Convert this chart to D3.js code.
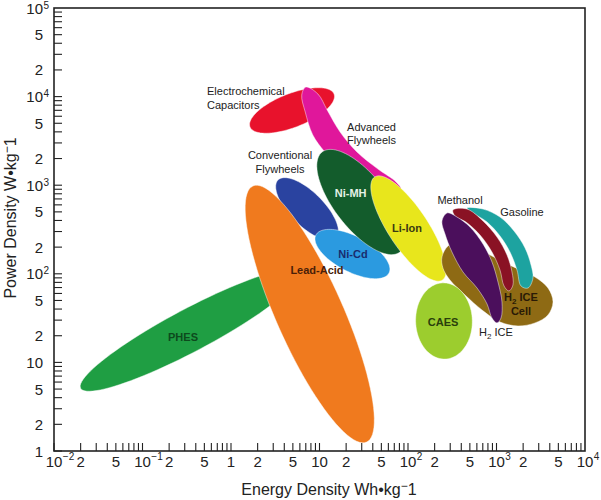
<!DOCTYPE html>
<html><head><meta charset="utf-8">
<script src="https://cdn.jsdelivr.net/npm/d3@7"></script>
<style>body{margin:0;background:#fff}</style>
</head><body><svg id="c" width="601" height="500"></svg>
<script>
// ---- Data ----
// Elliptical regions: major-axis end points (energy Wh/kg, power W/kg) and semi-minor axis in decades
const ellNames = ["PHES","Conventional Flywheels","Lead-Acid","Ni-Cd","Electrochemical Capacitors","Ni-MH","Li-Ion","CAES"];
const ellE1 = [0.02, 3.4, 1.77, 9.1, 1.64, 10.7, 42, 248];
const ellP1 = [5.1, 1145, 980, 274, 4540, 2370, 1238, 79];
const ellE2 = [6.0, 15.4, 34, 61, 14.6, 81, 245, 262];
const ellP2 = [105, 254, 1.26, 102, 10700, 176, 85, 10.9];
const ellHalfWidth = [0.24, 0.19, 0.38, 0.20, 0.19, 0.30, 0.225, 0.32];

// Free-form regions: outline points (energy Wh/kg, power W/kg)
const advFlyE = [7.0, 9.6, 12.2, 17.1, 26.5, 45.8, 73.2, 83.4, 73.2, 48.3, 28.7, 17.1, 11.5, 8.4, 6.9, 6.3];
const advFlyP = [12800, 10700, 7060, 3980, 2370, 1520, 1090, 906, 838, 979, 1205, 1563, 2370, 3690, 6700, 10400];
const h2CellE = [242, 283, 367, 529, 845, 1496, 2723, 3818, 4350, 3818, 2723, 1750, 1096, 686, 441, 298, 248];
const h2CellP = [155, 206, 234, 217, 163, 122, 92, 69.1, 48.1, 34.3, 27.9, 25.8, 28.6, 39.0, 57.6, 85.1, 116];
const gasolineE = [464, 704, 1096, 1578, 2100, 2454, 2583, 2270, 1893, 1706, 1421, 1096, 782, 542];
const gasolineP = [553, 538, 437, 304, 196, 126, 89.7, 69.1, 72.8, 110, 176, 267, 384, 486];
const methanolE = [322, 464, 704, 1013, 1315, 1496, 1535, 1384, 1216, 1096, 889, 651, 452, 340];
const methanolP = [525, 538, 394, 260, 163, 105, 74.8, 64, 72.8, 110, 176, 274, 384, 449];
const h2IceE = [276, 358, 502, 704, 889, 1040, 1153, 1125, 1013, 889, 782, 603, 418, 314, 262, 242];
const h2IceP = [486, 437, 337, 217, 136, 80.7, 48.1, 31.7, 27.9, 31.7, 45.6, 69.1, 105, 176, 281, 394];

// Labels: text lines, anchor energy, anchor power
const labelText = [["Electrochemical","Capacitors"],["Advanced","Flywheels"],["Conventional","Flywheels"],["Ni-MH"],["Li-Ion"],["Ni-Cd"],["Lead-Acid"],["PHES"],["Methanol"],["Gasoline"],["H2 ICE","Cell"],["CAES"],["H2 ICE"]];
const labelE = [0.536, 73.2, 3.58, 22.5, 97.4, 23.9, 9.37, 0.287, 387, 1941, 1892, 249, 987];
const labelP = [11560, 4540, 2190, 816, 329, 167, 110, 19.4, 681, 499, 54.7, 28.6, 22.0];

// Tick labels
const xTickVals = [0.01,0.02,0.05,0.1,0.2,0.5,1,2,5,10,20,50,100,200,500,1000,2000,5000,10000];
const xTickBase = ["10","2","5","10","2","5","1","2","5","10","2","5","10","2","5","10","2","5","10"];
const xTickSup  = ["−2","","","−1","","","","","","","","","2","","","3","","","4"];
const yTickVals = [1,2,5,10,20,50,100,200,500,1000,2000,5000,10000,20000,50000,100000];
const yTickBase = ["1","2","5","10","2","5","10","2","5","10","2","5","10","2","5","10"];
const yTickSup  = ["","","","","","","2","","","3","","","4","","","5"];

// ---- Styles ----
const colors = {
  "PHES":"#1f9e43","Conventional Flywheels":"#2a43a0","Lead-Acid":"#f07a1e","Ni-Cd":"#2b9ae0",
  "Electrochemical Capacitors":"#e8122c","Advanced Flywheels":"#e0179b","Ni-MH":"#135c2c",
  "Li-Ion":"#e8e61c","H2 ICE Cell":"#8e6a14","Gasoline":"#1da3a0","Methanol":"#8a1224",
  "H2 ICE":"#4b0f5c","CAES":"#9ccd2e"
};
const labelStyle = [
  {fill:"#222",w:"normal",a:"start"},{fill:"#222",w:"normal",a:"end"},{fill:"#222",w:"normal",a:"middle"},
  {fill:"#e6f2e6",w:"bold",a:"middle"},{fill:"#3a3a12",w:"bold",a:"middle"},{fill:"#1a2c6e",w:"bold",a:"middle"},
  {fill:"#4a1e08",w:"bold",a:"middle"},{fill:"#0d4a1d",w:"bold",a:"middle"},{fill:"#222",w:"normal",a:"middle"},
  {fill:"#222",w:"normal",a:"middle"},{fill:"#2a1a06",w:"bold",a:"middle"},{fill:"#2a3f0c",w:"bold",a:"middle"},
  {fill:"#222",w:"normal",a:"middle"}
];
const font = "'Liberation Sans', Arial, Helvetica, sans-serif";

const svg = d3.select("#c");
const x = d3.scaleLog().domain([0.01, 10000]).range([54, 585]);
const y = d3.scaleLog().domain([1, 100000]).range([451, 8]);

// region geometry
function ellipsePts(i){
  const lx1=Math.log10(ellE1[i]), ly1=Math.log10(ellP1[i]), lx2=Math.log10(ellE2[i]), ly2=Math.log10(ellP2[i]);
  const cx=(lx1+lx2)/2, cy=(ly1+ly2)/2, dx=lx2-lx1, dy=ly2-ly1, len=Math.hypot(dx,dy);
  const a=len/2, b=ellHalfWidth[i], ux=dx/len, uy=dy/len, vx=-uy, vy=ux;
  return d3.range(0, 96).map(k=>{
    const t=k/96*2*Math.PI;
    return [Math.pow(10, cx + a*Math.cos(t)*ux + b*Math.sin(t)*vx), Math.pow(10, cy + a*Math.cos(t)*uy + b*Math.sin(t)*vy)];
  });
}
const lineLin = d3.line().x(d=>x(d[0])).y(d=>y(d[1])).curve(d3.curveLinearClosed);
const lineSmooth = d3.line().x(d=>x(d[0])).y(d=>y(d[1])).curve(d3.curveCatmullRomClosed.alpha(0.5));
const zip = (E,P)=>E.map((e,i)=>[e,P[i]]);
const freeForm = {
  "Advanced Flywheels": zip(advFlyE, advFlyP),
  "H2 ICE Cell": zip(h2CellE, h2CellP),
  "Gasoline": zip(gasolineE, gasolineP),
  "Methanol": zip(methanolE, methanolP),
  "H2 ICE": zip(h2IceE, h2IceP)
};
const drawOrder = ["PHES","Conventional Flywheels","Lead-Acid","Ni-Cd","Electrochemical Capacitors","Advanced Flywheels","Ni-MH","Li-Ion","H2 ICE Cell","Gasoline","Methanol","H2 ICE","CAES"];

const gR = svg.append("g");
drawOrder.forEach(name=>{
  let d;
  if (freeForm[name]) d = lineSmooth(freeForm[name]);
  else d = lineLin(ellipsePts(ellNames.indexOf(name)));
  gR.append("path").attr("d", d).attr("fill", colors[name])
    .attr("stroke","rgba(255,255,255,0.45)").attr("stroke-width",1);
});

// labels
const gL = svg.append("g").attr("font-family", font).attr("font-size", 11);
labelText.forEach((lines,i)=>{
  const st = labelStyle[i];
  const t = gL.append("text").attr("x", x(labelE[i])).attr("y", y(labelP[i]) + 4)
    .attr("text-anchor", st.a).attr("fill", st.fill).attr("font-weight", st.w);
  lines.forEach((ln,j)=>{
    const ts = t.append("tspan").attr("x", x(labelE[i])).attr("dy", j===0 ? 0 : 13.5);
    if (ln.startsWith("H2")) {
      ts.text("H");
      t.append("tspan").attr("font-size", 8).attr("dy", 3).text("2");
      t.append("tspan").attr("dy", -3).text(ln.slice(2));
    } else ts.text(ln);
  });
});

// axes frame
const gA = svg.append("g").attr("stroke","#222").attr("fill","none");
gA.append("rect").attr("x", x(0.01)).attr("y", y(100000)).attr("width", x(10000)-x(0.01)).attr("height", y(1)-y(100000)).attr("stroke-width",1.6);
// ticks (inward)
const xMinor = [], yMinor = [];
for (let k=-2;k<4;k++) for (let n=1;n<10;n++) xMinor.push(n*Math.pow(10,k));
for (let k=0;k<5;k++) for (let n=1;n<10;n++) yMinor.push(n*Math.pow(10,k));
gA.selectAll(".xt").data(xMinor).join("line").attr("x1",d=>x(d)).attr("x2",d=>x(d)).attr("y1",y(1)).attr("y2",y(1)-8).attr("stroke-width",1.1);
gA.selectAll(".yt").data(yMinor).join("line").attr("y1",d=>y(d)).attr("y2",d=>y(d)).attr("x1",x(0.01)).attr("x2",x(0.01)+8).attr("stroke-width",1.1);

// tick labels
const gT = svg.append("g").attr("font-family", font).attr("fill","#222");
xTickVals.forEach((v,i)=>{
  const t = gT.append("text").attr("x", x(v)).attr("y", 467).attr("font-size",15).attr("text-anchor","middle").text(xTickBase[i]);
  if (xTickSup[i]) {
    const w = t.node().getComputedTextLength();
    gT.append("text").attr("x", x(v)+w/2+0.5).attr("y", 460).attr("font-size",10).text(xTickSup[i]);
  }
});
yTickVals.forEach((v,i)=>{
  gT.append("text").attr("x", 43).attr("y", y(v)+5.5).attr("font-size",15).attr("text-anchor","end").text(yTickBase[i]);
  if (yTickSup[i]) gT.append("text").attr("x", 43.5).attr("y", y(v)+0.5).attr("font-size",10).text(yTickSup[i]);
});

// axis titles
const xt = svg.append("text").attr("x", 329).attr("y", 495).attr("font-family", font).attr("font-size",16).attr("fill","#222").attr("text-anchor","middle");
xt.append("tspan").text("Energy Density Wh•kg");
xt.append("tspan").attr("dy",-5).attr("font-size",12).text("−");
xt.append("tspan").attr("dy",5).text("1");
const yt = svg.append("text").attr("transform","translate(15.5,218) rotate(-90)").attr("font-family", font).attr("font-size",16).attr("fill","#222").attr("text-anchor","middle");
yt.append("tspan").text("Power Density W•kg");
yt.append("tspan").attr("dy",-5).attr("font-size",12).text("−");
yt.append("tspan").attr("dy",5).text("1");
</script>
</body></html>
